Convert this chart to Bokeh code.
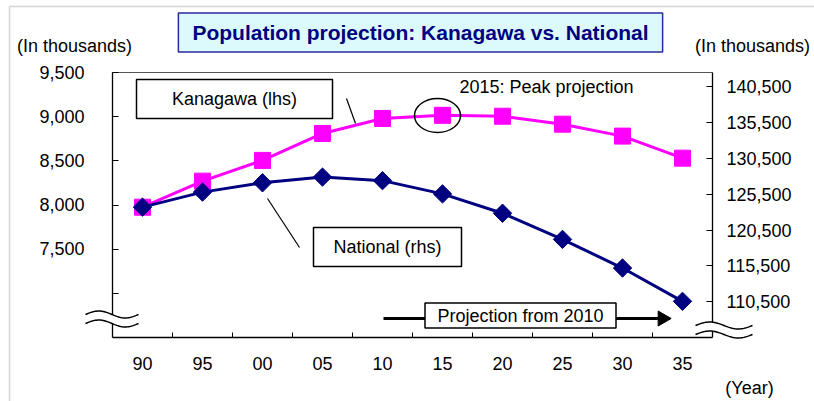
import numpy as np
from bokeh.plotting import figure
from bokeh.models import (Range1d, LinearAxis, FixedTicker, NumeralTickFormatter,
                          Label, PolyAnnotation)
from bokeh.embed import file_html
from bokeh.resources import INLINE

# ---------------- data ----------------
years = ["90", "95", "00", "05", "10", "15", "20", "25", "30", "35"]
kanagawa = [7975, 8270, 8505, 8810, 8980, 9015, 9005, 8915, 8780, 8530]
national = [123700, 125800, 127100, 127900, 127400, 125550, 122850, 119200, 115200, 110550]
left_ticks = [7000, 7500, 8000, 8500, 9000, 9500]
right_ticks = [110500, 115500, 120500, 125500, 130500, 135500, 140500]
left_lim = (6500, 9500)
right_lim = (105500, 142500)
title_text = "Population projection: Kanagawa vs. National"

FONT = "Liberation Sans"
idx = list(range(len(years)))
x_lim = (-0.5, len(years) - 0.5)

# ---------------- geometry (pixels on the page) ----------------
W, H = 814, 401
L, R, T, B = 112, 712, 72, 337          # plot area box
xpp = (x_lim[1] - x_lim[0]) / (R - L)
ypp = (left_lim[1] - left_lim[0]) / (B - T)
npp = (right_lim[1] - right_lim[0]) / (B - T)

x_range = Range1d(x_lim[0] - L * xpp, x_lim[1] + (W - R) * xpp)
y_range = Range1d(left_lim[0] - (H - B) * ypp, left_lim[1] + T * ypp)
n_range = Range1d(right_lim[0] - (H - B) * npp, right_lim[1] + T * npp)

def fx(px):
    return x_lim[0] + (px - L) * xpp

def fy(py):
    return left_lim[0] + (B - py) * ypp

p = figure(width=W, height=H, x_range=x_range, y_range=y_range,
           output_backend="svg", toolbar_location=None,
           min_border_left=0, min_border_right=0, min_border_top=0, min_border_bottom=0)
p.extra_y_ranges = {"nat": n_range}
p.background_fill_color = "white"
p.border_fill_color = "white"
p.outline_line_color = None
p.xgrid.visible = False
p.ygrid.visible = False
p.title.visible = False

# x axis (fixed at the bottom of the plot box)
xa = p.xaxis[0]
xa.fixed_location = left_lim[0]
xa.bounds = x_lim
xa.ticker = FixedTicker(ticks=idx, minor_ticks=[i + 0.5 for i in idx[:-1]])
xa.major_label_overrides = {i: years[i] for i in idx}
xa.major_tick_in = 0
xa.major_tick_out = 0
xa.minor_tick_in = 5
xa.minor_tick_out = 0
xa.major_label_standoff = 19

# left axis
ya = p.yaxis[0]
ya.fixed_location = x_lim[0]
ya.bounds = left_lim
ya.ticker = FixedTicker(ticks=left_ticks)
ya.formatter = NumeralTickFormatter(format="0,0")
ya.major_label_overrides = {7000: " "}
ya.major_tick_in = 6
ya.major_tick_out = 0
ya.minor_tick_line_color = None
ya.major_label_standoff = 28

# right axis
ra = LinearAxis(y_range_name="nat", ticker=FixedTicker(ticks=right_ticks),
                formatter=NumeralTickFormatter(format="0,0"))
ra.fixed_location = x_lim[1]
ra.bounds = right_lim
ra.major_tick_in = 6
ra.major_tick_out = 0
ra.minor_tick_line_color = None
ra.major_label_standoff = 14
p.add_layout(ra, "right")

for ax in (xa, ya, ra):
    ax.axis_line_color = "black"
    ax.axis_line_width = 1.3
    ax.major_tick_line_color = "black"
    ax.major_label_text_font = FONT
    ax.major_label_text_font_size = "18px"
    ax.major_label_text_color = "black"

# top border of the plot box
p.segment(x0=[fx(L)], y0=[fy(T)], x1=[fx(R)], y1=[fy(T)], line_color="#555555", line_width=1)
# light outer chart border
p.segment(x0=[fx(9), fx(9)], y0=[fy(6), fy(6)], x1=[fx(9), fx(W)], y1=[fy(H), fy(6)],
          line_color="#d4d4d4", line_width=1.5)

# ---------------- series ----------------
p.line(idx, kanagawa, line_color="#ff00ff", line_width=3)
p.scatter(idx, kanagawa, marker="square", size=16, fill_color="#ff00ff", line_color="#ff00ff")
p.line(idx, national, y_range_name="nat", line_color="#000080", line_width=3)
p.scatter(idx, national, y_range_name="nat", marker="square", angle=np.pi / 4, size=13,
          fill_color="#000080", line_color="#000080")

# ---------------- annotations ----------------
# leader lines
p.segment(x0=[fx(346), fx(267)], y0=[fy(98), fy(198)], x1=[fx(355), fx(299)], y1=[fy(123), fy(247)],
          line_color="black", line_width=1.2)

# peak ellipse
p.ellipse(x=fx(437), y=fy(115), width=46, height=34, width_units="screen", height_units="screen",
          fill_color=None, line_color="black", line_width=1.5)

# projection arrow
p.segment(x0=fx(383), y0=fy(318), x1=fx(658), y1=fy(318), line_color="black", line_width=3)
p.scatter(x=[fx(662)], y=[fy(318)], marker="triangle", angle=-np.pi / 2, size=15,
          fill_color="black", line_color="black")

# boxes
boxes = [(234, 98.5, 196, 39), (387, 246.5, 148, 39), (520, 315, 191, 25)]
p.rect(x=[fx(b[0]) for b in boxes], y=[fy(b[1]) for b in boxes],
       width=[b[2] for b in boxes], height=[b[3] for b in boxes],
       width_units="screen", height_units="screen",
       fill_color="white", line_color="black", line_width=1.5)

def lab(px, py, text, size="18px", **kw):
    l = Label(x=fx(px), y=fy(py), text=text, text_align="center", text_baseline="middle",
              text_font=FONT, text_font_size=size, text_color=kw.pop("text_color", "black"), **kw)
    p.add_layout(l)

lab(234, 98.5, "Kanagawa (lhs)")
lab(387, 246.5, "National (rhs)")
lab(520, 315, "Projection from 2010")
lab(546, 86, "2015: Peak projection")
lab(74, 45, "(In thousands)")
lab(752, 45, "(In thousands)")
lab(749, 387, "(Year)")

# title box
lab(420, 32, title_text, size="21px", text_font_style="bold", text_color="#000080",
    background_fill_color="#dcfafc", border_line_color="#2a2aa0", border_line_width=1.5,
    padding=(14, 8))

# axis break marks
def wave(x0, x1, yc, amp=3.5, n=40):
    xs = np.linspace(x0, x1, n)
    t = (xs - x0) / (x1 - x0)
    ys = yc - amp * np.sin(2 * np.pi * t)
    return xs, ys

def add_break(x0, x1, yup, ylo):
    xu, yu = wave(x0, x1, yup)
    xl, yl = wave(x0, x1, ylo)
    fill_x = list(xu) + list(xl[::-1])
    fill_y = list(yu) + list(yl[::-1])
    p.add_layout(PolyAnnotation(xs=[fx(v) for v in fill_x], ys=[fy(v) for v in fill_y],
                                fill_color="white", fill_alpha=1, line_color=None))
    for xs_, ys_ in ((xu, yu), (xl, yl)):
        px_ = list(xs_) + list(xs_[::-1])
        py_ = list(ys_) + list(ys_[::-1])
        p.add_layout(PolyAnnotation(xs=[fx(v) for v in px_], ys=[fy(v) for v in py_],
                                    fill_alpha=0, line_color="black", line_alpha=1,
                                    line_width=1.5))

add_break(85, 138, 314, 323)
add_break(695, 752, 325, 334)

open("out.html", "w").write(file_html(p, INLINE))
